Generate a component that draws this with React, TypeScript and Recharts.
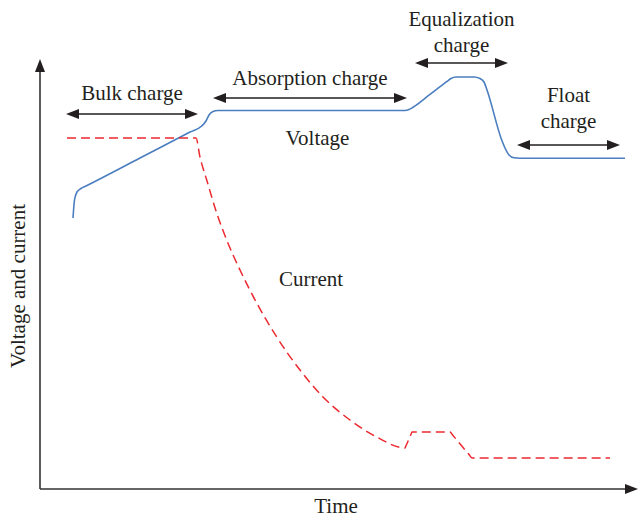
import { LineChart, Line, XAxis, YAxis, ReferenceLine, ReferenceDot } from "recharts";

// time (x) and level (y) in arbitrary chart units
const voltageTime = [33, 34.5, 37, 41, 46, 100, 150, 161.7, 166, 169, 173, 178, 365, 369, 373, 390, 406.7, 411, 416, 434, 440, 444, 447, 461.7, 465, 469, 474, 480, 585];
const voltageLevel = [271, 289, 297, 300.5, 303, 331, 357, 363, 368, 374, 377.5, 378.5, 378.5, 379.5, 381.7, 394.6, 407.3, 410.5, 412, 412, 410.5, 407, 399, 349, 341, 334, 331.2, 330.8, 330.8];

const currentTime = [27, 156, 160, 166.7, 176.7, 186.7, 200, 216.7, 236.7, 260, 283, 310, 336.7, 365, 366, 371, 372, 410, 413, 429, 432, 570];
const currentLevel = [351, 351, 332, 309, 276, 249, 219, 186, 152, 119, 92, 69, 52, 41, 43.3, 54.7, 57, 57, 53.5, 34.5, 31, 31];

const phaseLabels = [["Bulk charge"], ["Absorption charge"], ["Equalization", "charge"], ["Float", "charge"]];
const phaseStart = [26, 173, 375, 477];
const phaseEnd = [158, 367, 468, 580];
const phaseLevel = [375, 391, 426, 344];

const seriesNames = ["Voltage", "Current"];
const seriesNameAt = [
  { t: 277.5, v: 344 },
  { t: 271, v: 203 },
];

const voltage = voltageTime.map((t, i) => ({ t, v: voltageLevel[i] }));
const current = currentTime.map((t, i) => ({ t, v: currentLevel[i] }));

const FONT = '"Liberation Serif", "Times New Roman", serif';
const INK = "#231f20";
const labelGap = [14, 13, 11, 17];

function head(x: number, y: number, dx: number, dy: number, len = 13, half = 5) {
  const bx = x - dx * len;
  const by = y - dy * len;
  const px = -dy * half;
  const py = dx * half;
  return `${x},${y} ${bx + px},${by + py} ${bx - px},${by - py}`;
}

function PhaseArrow(props: any) {
  const { x1, y1, x2, y2, lines, gap } = props;
  const cx = (x1 + x2) / 2;
  return (
    <g>
      <line x1={x1 + 8} y1={y1} x2={x2 - 8} y2={y2} stroke={INK} strokeWidth={1.6} />
      <polygon points={head(x1, y1, -1, 0)} fill={INK} />
      <polygon points={head(x2, y2, 1, 0)} fill={INK} />
      {lines.map((s: string, i: number) => (
        <text
          key={s}
          x={cx}
          y={y1 - gap - (lines.length - 1 - i) * 26}
          textAnchor="middle"
          style={{ fontFamily: FONT, fontSize: 21 }}
          fill={INK}
        >
          {s}
        </text>
      ))}
    </g>
  );
}

function AxisArrow(props: any) {
  const { x1, y1, x2, y2 } = props;
  const len = Math.hypot(x2 - x1, y2 - y1) || 1;
  const dx = (x2 - x1) / len;
  const dy = (y2 - y1) / len;
  return (
    <g>
      <line x1={x1} y1={y1} x2={x2 - dx * 8} y2={y2 - dy * 8} stroke="#333" strokeWidth={1.6} />
      <polygon points={head(x2, y2, dx, dy, 13, 5)} fill={INK} />
    </g>
  );
}

function TextAt(props: any) {
  const { cx, cy, text, rotate } = props;
  return (
    <text
      x={cx}
      y={cy}
      textAnchor="middle"
      style={{ fontFamily: FONT, fontSize: 21 }}
      fill={INK}
      transform={rotate ? `rotate(-90 ${cx} ${cy})` : undefined}
    >
      {text}
    </text>
  );
}

export default function App() {
  return (
    <div style={{ position: "absolute", left: 0, top: 0, width: 638, height: 518, background: "#fff" }}>
      <LineChart width={638} height={518} margin={{ top: 59, right: 0, bottom: 29, left: 40 }}>
        <XAxis type="number" dataKey="t" domain={[0, 598]} hide allowDataOverflow />
        <YAxis type="number" dataKey="v" domain={[0, 430]} hide allowDataOverflow />

        <ReferenceLine
          segment={[{ x: 0, y: 0 }, { x: 598, y: 0 }]}
          ifOverflow="visible"
          shape={(p: any) => <AxisArrow {...p} />}
        />
        <ReferenceLine
          segment={[{ x: 0, y: 0 }, { x: 0, y: 430 }]}
          ifOverflow="visible"
          shape={(p: any) => <AxisArrow {...p} />}
        />

        <Line
          data={voltage}
          dataKey="v"
          type="monotone"
          stroke="#4a7ebf"
          strokeWidth={1.6}
          dot={false}
          isAnimationActive={false}
        />
        <Line
          data={current}
          dataKey="v"
          type="monotone"
          stroke="#ec2a30"
          strokeWidth={1.5}
          strokeDasharray="9 5"
          dot={false}
          isAnimationActive={false}
        />

        {phaseLabels.map((lines, i) => (
          <ReferenceLine
            key={lines.join(" ")}
            segment={[{ x: phaseStart[i], y: phaseLevel[i] }, { x: phaseEnd[i], y: phaseLevel[i] }]}
            ifOverflow="visible"
            shape={(p: any) => <PhaseArrow {...p} lines={lines} gap={labelGap[i]} />}
          />
        ))}

        {seriesNames.map((name, i) => (
          <ReferenceDot
            key={name}
            x={seriesNameAt[i].t}
            y={seriesNameAt[i].v}
            ifOverflow="visible"
            shape={(p: any) => <TextAt {...p} text={name} />}
          />
        ))}

        <ReferenceDot x={296} y={-24} ifOverflow="visible" shape={(p: any) => <TextAt {...p} text="Time" />} />
        <ReferenceDot
          x={-15}
          y={203}
          ifOverflow="visible"
          shape={(p: any) => <TextAt {...p} text="Voltage and current" rotate />}
        />
      </LineChart>
    </div>
  );
}
